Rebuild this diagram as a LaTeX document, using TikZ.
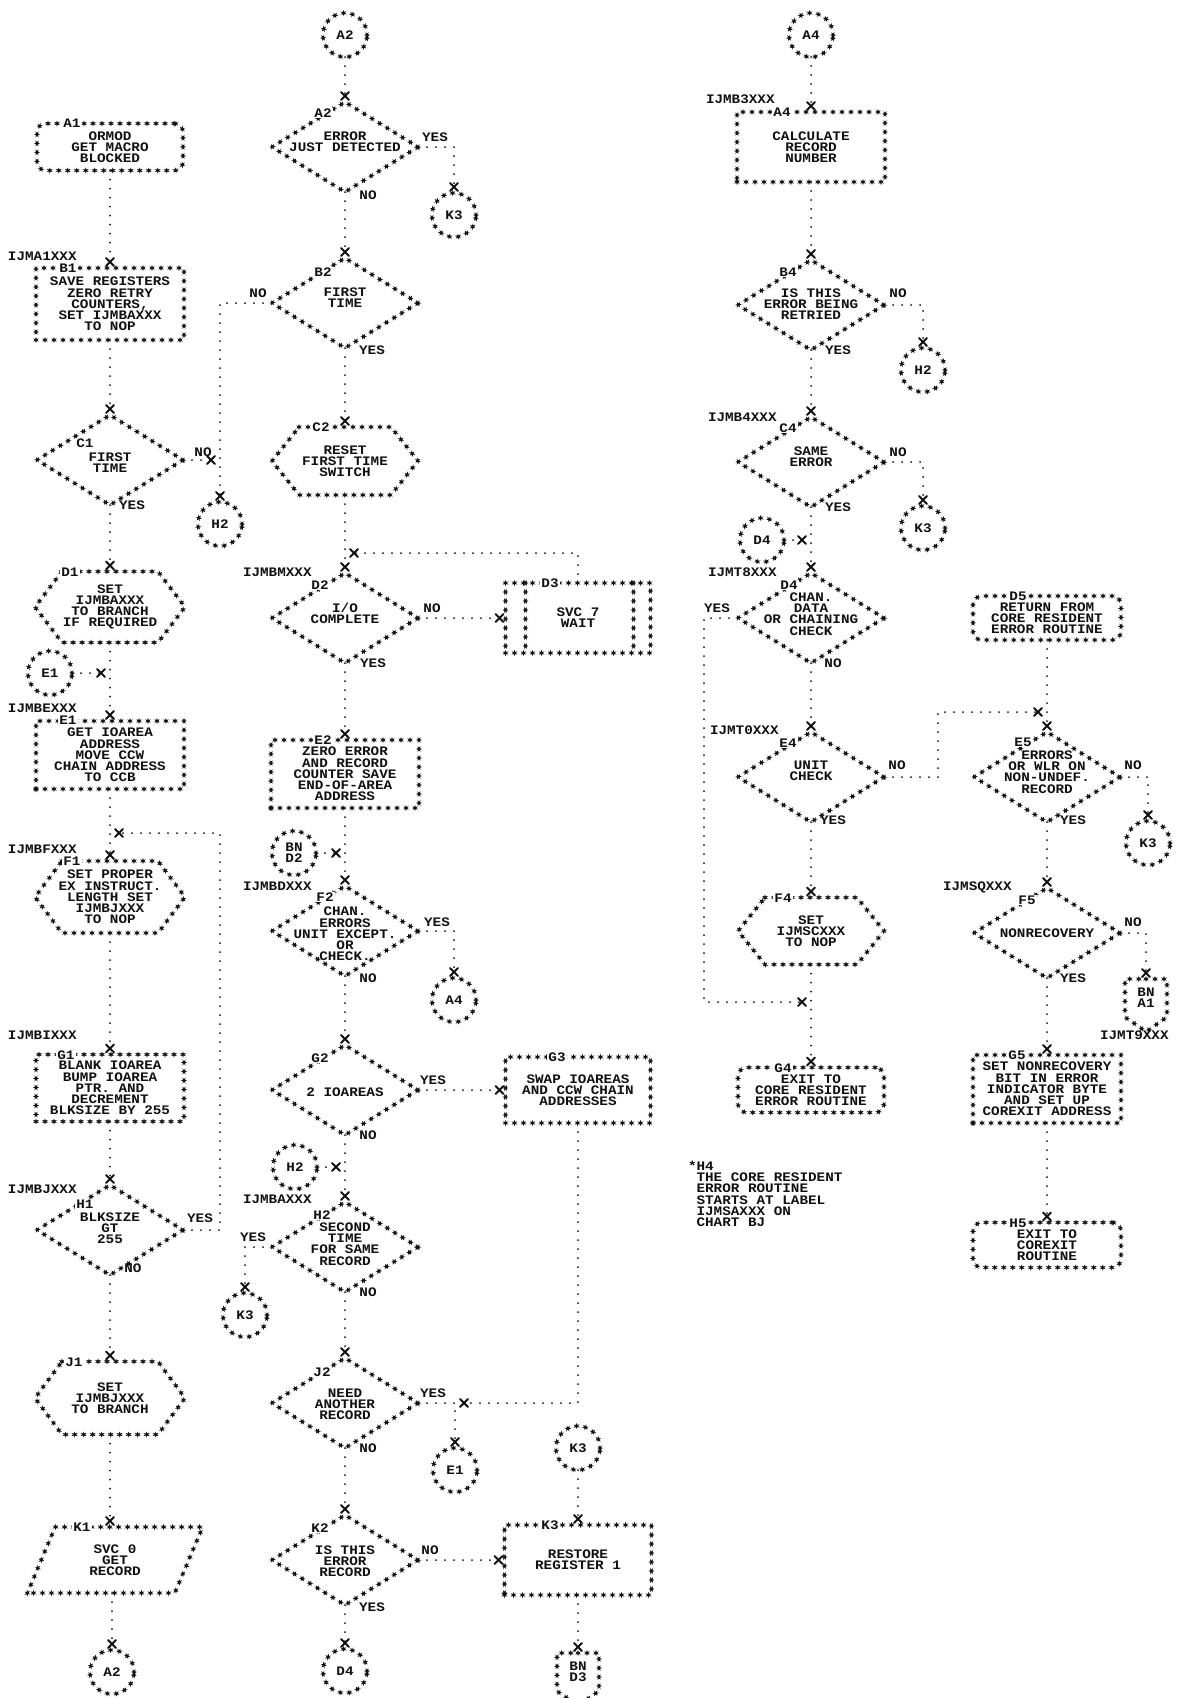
\documentclass[tikz,border=0pt]{standalone}
\usepackage{fontspec}
\usepackage{tikz}
\usetikzlibrary{arrows.meta,shapes.geometric,shapes.symbols,decorations.shapes}
\newfontfamily\chartfam[FakeStretch=1.1]{Liberation Mono}
\newcommand{\chartfont}{\chartfam\bfseries\fontsize{13pt}{11.2pt}\selectfont}
\definecolor{ink}{HTML}{111111}

% cross tip, like the printer's X at each entry
\pgfdeclarearrow{
  name = Xcross,
  parameters = {\the\pgfarrowlength},
  setup code = {
    \pgfarrowssettipend{0pt}
    \pgfarrowssetlineend{-.5\pgfarrowlength}
    \pgfarrowssetbackend{-\pgfarrowlength}
    \pgfarrowshullpoint{0pt}{.5\pgfarrowlength}
    \pgfarrowshullpoint{0pt}{-.5\pgfarrowlength}
    \pgfarrowshullpoint{-\pgfarrowlength}{.5\pgfarrowlength}
    \pgfarrowshullpoint{-\pgfarrowlength}{-.5\pgfarrowlength}
    \pgfarrowssavethe\pgfarrowlength
  },
  drawing code = {
    \pgfsetdash{}{0pt}
    \pgfsetroundcap
    \pgfpathmoveto{\pgfqpoint{-\pgfarrowlength}{-.5\pgfarrowlength}}
    \pgfpathlineto{\pgfqpoint{0pt}{.5\pgfarrowlength}}
    \pgfpathmoveto{\pgfqpoint{-\pgfarrowlength}{.5\pgfarrowlength}}
    \pgfpathlineto{\pgfqpoint{0pt}{-.5\pgfarrowlength}}
    \pgfusepathqstroke
  },
  defaults = {length = 8pt}
}

\tikzset{
  chart/.style={font=\chartfont,text=ink,align=center,inner sep=0pt,outer sep=0pt},
  starline/.style={decorate,draw=none,fill=ink,sharp corners,
    decoration={shape backgrounds,shape=star,shape size=6pt,shape sep={9pt,between centers}},
    star points=6,star point ratio=2.4},
  stars/.style={fill=white,postaction={starline}},
  procbox/.style={chart,stars,rectangle,minimum width=148pt,minimum height=68pt},
  termbox/.style={chart,stars,rectangle,rounded corners=9pt,minimum width=146pt,minimum height=46pt},
  hexbox/.style={chart,rectangle,minimum width=150pt,minimum height=70pt},
  decision/.style={chart,stars,diamond,minimum width=146pt,minimum height=90pt},
  iobox/.style={chart,stars,trapezium,trapezium left angle=69,trapezium right angle=111,
    trapezium stretches=true,minimum width=176pt,minimum height=66pt},
  conn/.style={chart,stars,circle,minimum size=44pt},
  offpage/.style={chart,stars,signal,signal to=south,signal pointer angle=110,
    minimum width=42pt,minimum height=44pt},
  tag/.style={chart,fill=white,inner sep=1pt},
  entry/.style={chart,anchor=west},
  yn/.style={chart},
  note/.style={chart,align=left,anchor=north west},
  flow/.style={draw=ink,line width=2pt,line cap=round,dash pattern=on 0pt off 9pt,
    shorten >=2pt,-{Xcross}},
}
% star outline of a preparation (hexagon) block
\newcommand{\hexline}[1]{%
  \path[starline] ([xshift=27pt]#1.north west) -- ([xshift=-27pt]#1.north east) -- (#1.east)
    -- ([xshift=-27pt]#1.south east) -- ([xshift=27pt]#1.south west) -- (#1.west) -- cycle;}

\begin{document}
\begin{tikzpicture}[x=1pt,y=-1pt]
  \path[use as bounding box,fill=white] (0,0) rectangle (1176,1698);

  % column 1
  \node[termbox,minimum height=47pt] (a1) at (110,147) {ORMOD\\GET MACRO\\BLOCKED};
  \node[procbox,minimum height=72pt] (b1) at (110,304) {SAVE REGISTERS\\ZERO RETRY\\COUNTERS,\\SET IJMBAXXX\\TO NOP};
  \node[decision] (c1) at (110,460) {};
  \node[chart] (c1t) at (110,463) {FIRST\\TIME};
  \node[hexbox,minimum height=71pt] (d1) at (110,607) {SET\\IJMBAXXX\\TO BRANCH\\IF REQUIRED};
  \hexline{d1}
  \node[procbox,minimum height=68pt] (e1) at (110,755) {GET IOAREA\\ADDRESS\\MOVE CCW\\CHAIN ADDRESS\\TO CCB};
  \node[hexbox,minimum height=72pt] (f1) at (110,897) {SET PROPER\\EX INSTRUCT.\\LENGTH SET\\IJMBJXXX\\TO NOP};
  \hexline{f1}
  \node[procbox,minimum height=67pt] (g1) at (110,1088) {BLANK IOAREA\\BUMP IOAREA\\PTR. AND\\DECREMENT\\BLKSIZE BY 255};
  \node[decision] (h1) at (110,1230) {};
  \node[chart] (h1t) at (110,1228) {BLKSIZE\\GT\\255};
  \node[hexbox,minimum height=73pt] (j1) at (110,1398) {SET\\IJMBJXXX\\TO BRANCH};
  \hexline{j1}
  \node[iobox] (k1) at (115,1560) {SVC 0\\GET\\RECORD};

  % column 2
  \node[decision] (a2) at (345,147) {};
  \node[chart] (a2t) at (345,142) {ERROR\\JUST DETECTED};
  \node[decision] (b2) at (345,303) {};
  \node[chart] (b2t) at (345,298) {FIRST\\TIME};
  \node[hexbox,minimum width=146pt,minimum height=68pt] (c2) at (345,461) {RESET\\FIRST TIME\\SWITCH};
  \hexline{c2}
  \node[decision] (d2) at (345,618) {};
  \node[chart] (d2t) at (345,613) {I/O\\COMPLETE};
  \node[procbox] (e2) at (345,774) {ZERO ERROR\\AND RECORD\\COUNTER SAVE\\END-OF-AREA\\ADDRESS};
  \node[decision] (f2) at (345,931) {};
  \node[chart] (f2t) at (345,934) {CHAN.\\ERRORS\\UNIT EXCEPT.\\OR\\CHECK.};
  \node[decision] (g2) at (345,1090) {};
  \node[chart] (g2t) at (345,1092) {2 IOAREAS};
  \node[decision] (h2) at (345,1247) {};
  \node[chart] (h2t) at (345,1244) {SECOND\\TIME\\FOR SAME\\RECORD};
  \node[decision] (j2) at (345,1403) {};
  \node[chart] (j2t) at (345,1404) {NEED\\ANOTHER\\RECORD};
  \node[decision] (k2) at (345,1560) {};
  \node[chart] (k2t) at (345,1561) {IS THIS\\ERROR\\RECORD};

  % column 3
  \node[procbox,minimum width=145pt,minimum height=70pt] (d3) at (578,618) {SVC 7\\WAIT};
  \path[starline] ([xshift=20pt]d3.north west) -- ([xshift=20pt]d3.south west);
  \path[starline] ([xshift=-17pt]d3.north east) -- ([xshift=-17pt]d3.south east);
  \node[procbox,minimum width=145pt,minimum height=66pt] (g3) at (578,1090) {SWAP IOAREAS\\AND CCW CHAIN\\ADDRESSES};
  \node[procbox,minimum width=147pt,minimum height=70pt] (k3) at (578,1560) {RESTORE\\REGISTER 1};
  \node[offpage] (offD3) at (578,1672) {BN\\D3};

  % column 4
  \node[procbox,minimum height=70pt] (a4) at (811,147) {CALCULATE\\RECORD\\NUMBER};
  \node[decision] (b4) at (811,305) {};
  \node[chart] (b4t) at (811,304) {IS THIS\\ERROR BEING\\RETRIED};
  \node[decision] (c4) at (811,462) {};
  \node[chart] (c4t) at (811,457) {SAME\\ERROR};
  \node[decision] (d4) at (811,618) {};
  \node[chart] (d4t) at (811,614) {CHAN.\\DATA\\OR CHAINING\\CHECK};
  \node[decision] (e4) at (811,777) {};
  \node[chart] (e4t) at (811,771) {UNIT\\CHECK};
  \node[hexbox,minimum height=67pt,minimum width=146pt] (f4) at (811,931) {SET\\IJMSCXXX\\TO NOP};
  \hexline{f4}
  \node[termbox,minimum height=45pt] (g4) at (811,1090) {EXIT TO\\CORE RESIDENT\\ERROR ROUTINE};
  \node[note] (h4note) at (688,1161) {*H4\\\phantom{*}THE CORE RESIDENT\\\phantom{*}ERROR ROUTINE\\\phantom{*}STARTS AT LABEL\\\phantom{*}IJMSAXXX ON\\\phantom{*}CHART BJ};

  % column 5
  \node[termbox,minimum width=148pt,minimum height=44pt] (d5) at (1047,618) {RETURN FROM\\CORE RESIDENT\\ERROR ROUTINE};
  \node[decision] (e5) at (1047,777) {};
  \node[chart] (e5t) at (1047,772) {ERRORS\\OR WLR ON\\NON-UNDEF.\\RECORD};
  \node[decision] (f5) at (1047,933) {};
  \node[chart] (f5t) at (1047,933) {NONRECOVERY};
  \node[offpage] (offA1) at (1146,998) {BN\\A1};
  \node[procbox] (g5) at (1047,1089) {SET NONRECOVERY\\BIT IN ERROR\\INDICATOR BYTE\\AND SET UP\\COREXIT ADDRESS};
  \node[termbox,minimum width=148pt,minimum height=45pt] (h5) at (1047,1245) {EXIT TO\\COREXIT\\ROUTINE};

  % connector circles
  \foreach \nm/\lbl/\x/\y in {conA2a/A2/345/35, conA2b/A2/112/1672, conH2a/H2/220/524,
      conE1a/E1/50/673, conK3a/K3/454/215, conA4a/A4/454/1000, conH2b/H2/295/1167,
      conK3b/K3/245/1315, conE1b/E1/455/1470, conK3c/K3/578/1448, conD4a/D4/345/1671,
      conA4b/A4/811/35, conH2c/H2/923/370, conK3d/K3/923/528, conD4b/D4/762/540,
      conK3e/K3/1148/843}
    \node[conn] (\nm) at (\x,\y) {\lbl};
  \node[conn] (conBND2) at (294,853) {BN\\D2};

  % block numbers on the borders
  \foreach \lbl/\x/\y in {A1/72/123, B1/68/268, C1/85/443, D1/70/572, E1/68/720,
      F1/72/861, G1/66/1055, H1/85/1204, J1/74/1362, K1/82/1527,
      A2/323/113, B2/323/272, C2/321/427, D2/320/585, E2/323/740, F2/325/897,
      G2/320/1058, H2/322/1215, J2/322/1372, K2/320/1528,
      D3/550/583, G3/557/1057, K3/550/1525,
      A4/782/112, B4/788/272, C4/788/428, D4/789/585, E4/788/743, F4/783/898, G4/783/1068,
      D5/1018/596, E5/1023/742, F5/1027/900, G5/1017/1055, H5/1018/1223}
    \node[tag] (tag\lbl) at (\x,\y) {\lbl};

  % entry labels
  \foreach \lbl/\x/\y in {IJMA1XXX/8/256, IJMBEXXX/8/708, IJMBFXXX/8/849, IJMBIXXX/8/1035,
      IJMBJXXX/8/1189, IJMBMXXX/243/572, IJMBDXXX/243/886, IJMBAXXX/243/1199,
      IJMB3XXX/706/99, IJMB4XXX/708/417, IJMT8XXX/708/572, IJMT0XXX/710/730,
      IJMSQXXX/943/887, IJMT9XXX/1100/1035}
    \node[entry] (\lbl) at (\x,\y) {\lbl};

  % branch answers
  \foreach \nm/\lbl/\x/\y in {c1y/YES/132/505, c1n/NO/203/452, h1y/YES/200/1218, h1n/NO/133/1268,
      a2y/YES/435/137, a2n/NO/368/195, b2n/NO/258/293, b2y/YES/372/350,
      d2n/NO/432/608, d2y/YES/373/663, f2y/YES/437/922, f2n/NO/368/978,
      g2y/YES/433/1080, g2n/NO/368/1135, h2y/YES/253/1237, h2n/NO/368/1292,
      j2y/YES/433/1393, j2n/NO/368/1448, k2n/NO/430/1550, k2y/YES/372/1607,
      b4n/NO/898/293, b4y/YES/838/350, c4n/NO/898/452, c4y/YES/838/507,
      d4y/YES/717/608, d4n/NO/833/663, e4n/NO/897/765, e4y/YES/833/820,
      e5n/NO/1133/765, e5y/YES/1073/820, f5n/NO/1133/922, f5y/YES/1073/978}
    \node[yn] (\nm) at (\x,\y) {\lbl};

  % junctions on the main lines
  \coordinate (jc1) at (217,460);
  \coordinate (je1) at (107,673);
  \coordinate (h1r) at (220,1230);
  \coordinate (jf1) at (113,833);
  \coordinate (jd3) at (348,553);
  \coordinate (jf2) at (342,853);
  \coordinate (jh2) at (342,1167);
  \coordinate (jj2) at (458,1403);
  \coordinate (jd4) at (808,540);
  \coordinate (jg4) at (808,1002);
  \coordinate (je5) at (1044,712);

  % flow lines, column 1
  \draw[flow] (a1.south) -- (b1.north);
  \draw[flow] (b1.south) -- (c1.north);
  \draw[flow] (c1.south) -- (d1.north);
  \draw[flow] (c1.east) -- (jc1);
  \draw[flow] (b2.west) -| (conH2a.north);
  \draw[flow] (d1.south) -- (e1.north);
  \draw[flow] (conE1a.east) -- (je1);
  \draw[flow] (e1.south) -- (f1.north);
  \draw[flow] (f1.south) -- (g1.north);
  \draw[flow] (g1.south) -- (h1.north);
  \draw[flow] (h1.east) -- (h1r) |- (jf1);
  \draw[flow] (h1.south) -- (j1.north);
  \draw[flow] (j1.south) -- (j1.south |- k1.north);
  \draw[flow] (k1.south -| conA2b.north) -- (conA2b.north);

  % column 2 and 3
  \draw[flow] (conA2a.south) -- (a2.north);
  \draw[flow] (a2.south) -- (b2.north);
  \draw[flow] (a2.east) -| (conK3a.north);
  \draw[flow] (b2.south) -- (c2.north);
  \draw[flow] (c2.south) -- (d2.north);
  \draw[flow] (d3.north) |- (jd3);
  \draw[flow] (d2.east) -- (d3.west);
  \draw[flow] (d2.south) -- (e2.north);
  \draw[flow] (e2.south) -- (f2.north);
  \draw[flow] (conBND2.east) -- (jf2);
  \draw[flow] (f2.east) -| (conA4a.north);
  \draw[flow] (f2.south) -- (g2.north);
  \draw[flow] (g2.east) -- (g3.west);
  \draw[flow] (g2.south) -- (h2.north);
  \draw[flow] (conH2b.east) -- (jh2);
  \draw[flow] (h2.west) -| (conK3b.north);
  \draw[flow] (h2.south) -- (j2.north);
  \draw[flow] (j2.east) -| (conE1b.north);
  \draw[flow] (g3.south) |- (jj2);
  \draw[flow] (j2.south) -- (k2.north);
  \draw[flow] (k2.east) -- (k3.west);
  \draw[flow] (conK3c.south) -- (k3.north);
  \draw[flow] (k3.south) -- (offD3.north);
  \draw[flow] (k2.south) -- (conD4a.north);

  % column 4 and 5
  \draw[flow] (conA4b.south) -- (a4.north);
  \draw[flow] (a4.south) -- (b4.north);
  \draw[flow] (b4.east) -| (conH2c.north);
  \draw[flow] (b4.south) -- (c4.north);
  \draw[flow] (c4.east) -| (conK3d.north);
  \draw[flow] (c4.south) -- (d4.north);
  \draw[flow] (conD4b.east) -- (jd4);
  \draw[flow] (d4.west) -- ++(-34,0) |- (jg4);
  \draw[flow] (d4.south) -- (e4.north);
  \draw[flow] (e4.east) -- ++(54,0) |- (je5);
  \draw[flow] (e4.south) -- (f4.north);
  \draw[flow] (f4.south) -- (g4.north);
  \draw[flow] (d5.south) -- (e5.north);
  \draw[flow] (e5.east) -| (conK3e.north);
  \draw[flow] (e5.south) -- (f5.north);
  \draw[flow] (f5.east) -| (offA1.north);
  \draw[flow] (f5.south) -- (g5.north);
  \draw[flow] (g5.south) -- (h5.north);
\end{tikzpicture}
\end{document}
